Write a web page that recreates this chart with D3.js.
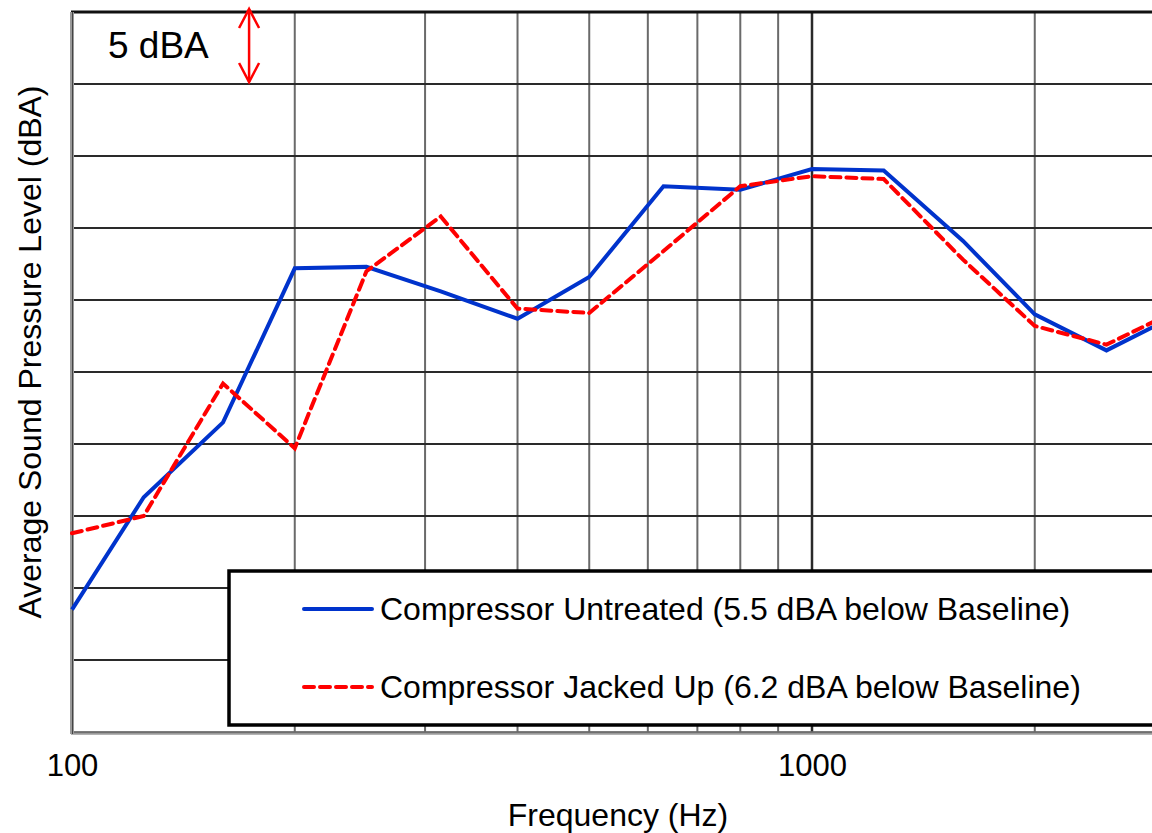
<!DOCTYPE html>
<html>
<head>
<meta charset="utf-8">
<script src="https://cdn.jsdelivr.net/npm/d3@7"></script>
<style>
  html, body { margin: 0; padding: 0; background: #fff; overflow: hidden; }
  svg { display: block; font-family: "Liberation Sans", Arial, sans-serif; }
</style>
</head>
<body>
<svg width="1152" height="833"></svg>
<script>
// 1/3 octave band centre frequencies (Hz)
const freqs = [100, 125, 160, 200, 250, 315, 400, 500, 630, 800, 1000, 1250, 1600, 2000, 2500, 3150];

// average sound pressure level (dBA)
const untreated = [38.5, 46.3, 51.5, 62.2, 62.3, 60.6, 58.7, 61.6, 67.9, 67.65, 69.1, 69.0, 64.1, 59.0, 56.5, 59.1];
const jackedUp  = [43.8, 45.0, 54.2, 49.7, 62.0, 65.8, 59.4, 59.1, 63.4, 67.9, 68.6, 68.4, 62.8, 58.2, 56.9, 59.4];

const seriesNames = [
  'Compressor Untreated (5.5 dBA below Baseline)',
  'Compressor Jacked Up (6.2 dBA below Baseline)'
];

const xTickValues = [100, 1000];
const xGridValues = [200, 300, 400, 500, 600, 700, 800, 900, 1000, 2000, 3000];
const yGridValues = [35, 40, 45, 50, 55, 60, 65, 70, 75];

const svg = d3.select('svg'),
      plotLeft = 72, plotTop = 12, plotBottom = 732;

const x = d3.scaleLog()
  .domain([100, 1000])
  .range([plotLeft, 812]);   // one decade = 740px, chart runs off the right edge

const y = d3.scaleLinear()
  .domain([30, 80])
  .range([plotBottom, plotTop]);

const xMax = 1160;

// grid
const grid = svg.append('g');
grid.selectAll('.vgrid')
  .data(xGridValues)
  .enter().append('line')
    .attr('x1', d => x(d)).attr('x2', d => x(d))
    .attr('y1', plotTop).attr('y2', plotBottom)
    .attr('stroke', d => d === 1000 ? '#2a2a2a' : '#6a6a6a')
    .attr('stroke-width', d => d === 1000 ? 2.5 : 2);

grid.selectAll('.hgrid')
  .data(yGridValues)
  .enter().append('line')
    .attr('x1', plotLeft).attr('x2', xMax)
    .attr('y1', d => y(d)).attr('y2', d => y(d))
    .attr('stroke', '#2a2a2a')
    .attr('stroke-width', 2);

// frame
grid.append('line')
  .attr('x1', plotLeft - 1).attr('x2', xMax)
  .attr('y1', y(80)).attr('y2', y(80))
  .attr('stroke', '#111').attr('stroke-width', 3);
grid.append('line')
  .attr('x1', plotLeft - 1).attr('x2', xMax)
  .attr('y1', y(30) + 1).attr('y2', y(30) + 1)
  .attr('stroke', '#9a9a9a').attr('stroke-width', 3.5);
grid.append('line')
  .attr('x1', plotLeft - 1).attr('x2', xMax)
  .attr('y1', y(30)).attr('y2', y(30))
  .attr('stroke', '#444').attr('stroke-width', 1);
grid.append('line')
  .attr('x1', plotLeft).attr('x2', plotLeft)
  .attr('y1', plotTop).attr('y2', plotBottom + 2)
  .attr('stroke', '#9a9a9a').attr('stroke-width', 4);
grid.append('line')
  .attr('x1', plotLeft + 0.5).attr('x2', plotLeft + 0.5)
  .attr('y1', plotTop).attr('y2', plotBottom + 2)
  .attr('stroke', '#444').attr('stroke-width', 1);

// lines
const line = d3.line()
  .x((d, i) => x(freqs[i]))
  .y(d => y(d));

svg.append('path')
  .datum(untreated)
  .attr('fill', 'none')
  .attr('stroke', '#0033cc')
  .attr('stroke-width', 4)
  .attr('stroke-linejoin', 'miter')
  .attr('d', line);

svg.append('path')
  .datum(jackedUp)
  .attr('fill', 'none')
  .attr('stroke', '#ff0000')
  .attr('stroke-width', 4)
  .attr('stroke-dasharray', '10,6')
  .attr('stroke-linecap', 'round')
  .attr('d', line);

// 5 dBA scale marker
const ax = x(173.5);
const arrow = svg.append('g')
  .attr('stroke', '#ff0000')
  .attr('stroke-width', 2.5)
  .attr('fill', 'none');
arrow.append('line')
  .attr('x1', ax).attr('x2', ax)
  .attr('y1', y(80) - 3).attr('y2', y(75) - 2);
arrow.append('polyline')
  .attr('points', `${ax - 10},${y(80) + 16} ${ax},${y(80) - 3} ${ax + 10},${y(80) + 16}`);
arrow.append('polyline')
  .attr('points', `${ax - 10},${y(75) - 21} ${ax},${y(75) - 2} ${ax + 10},${y(75) - 21}`);

svg.append('text')
  .attr('x', 108).attr('y', 58)
  .attr('font-size', 37)
  .attr('fill', '#000')
  .text('5 dBA');

// legend
const legend = svg.append('g');
legend.append('rect')
  .attr('x', 229).attr('y', 571)
  .attr('width', 960).attr('height', 154)
  .attr('fill', '#fff')
  .attr('stroke', '#000')
  .attr('stroke-width', 3.5);

const legendItems = [
  {name: seriesNames[0], color: '#0033cc', dash: null, cy: 609},
  {name: seriesNames[1], color: '#ff0000', dash: '10,6', cy: 687}
];

legend.selectAll('.legend-item')
  .data(legendItems)
  .enter().append('g')
    .attr('class', 'legend-item')
    .each(function(d) {
      const g = d3.select(this);
      g.append('line')
        .attr('x1', 304).attr('x2', 372)
        .attr('y1', d.cy).attr('y2', d.cy)
        .attr('stroke', d.color)
        .attr('stroke-width', 4)
        .attr('stroke-linecap', 'round')
        .attr('stroke-dasharray', d.dash);
      g.append('text')
        .attr('x', 380).attr('y', d.cy + 11)
        .attr('font-size', 32)
        .attr('fill', '#000')
        .text(d.name);
    });

// x axis labels
const xAxis = svg.append('g')
  .attr('transform', `translate(0, ${plotBottom})`)
  .call(d3.axisBottom(x).tickValues(xTickValues).tickSize(0).tickPadding(22).tickFormat(d3.format('d')));
xAxis.select('.domain').remove();
xAxis.selectAll('text')
  .attr('font-size', 31)
  .attr('font-family', '"Liberation Sans", Arial, sans-serif')
  .attr('fill', '#000');

svg.append('text')
  .attr('x', 618).attr('y', 826)
  .attr('text-anchor', 'middle')
  .attr('font-size', 32)
  .text('Frequency (Hz)');

svg.append('text')
  .attr('transform', 'translate(41, 352) rotate(-90)')
  .attr('text-anchor', 'middle')
  .attr('font-size', 32)
  .text('Average Sound Pressure Level (dBA)');
</script>
</body>
</html>
